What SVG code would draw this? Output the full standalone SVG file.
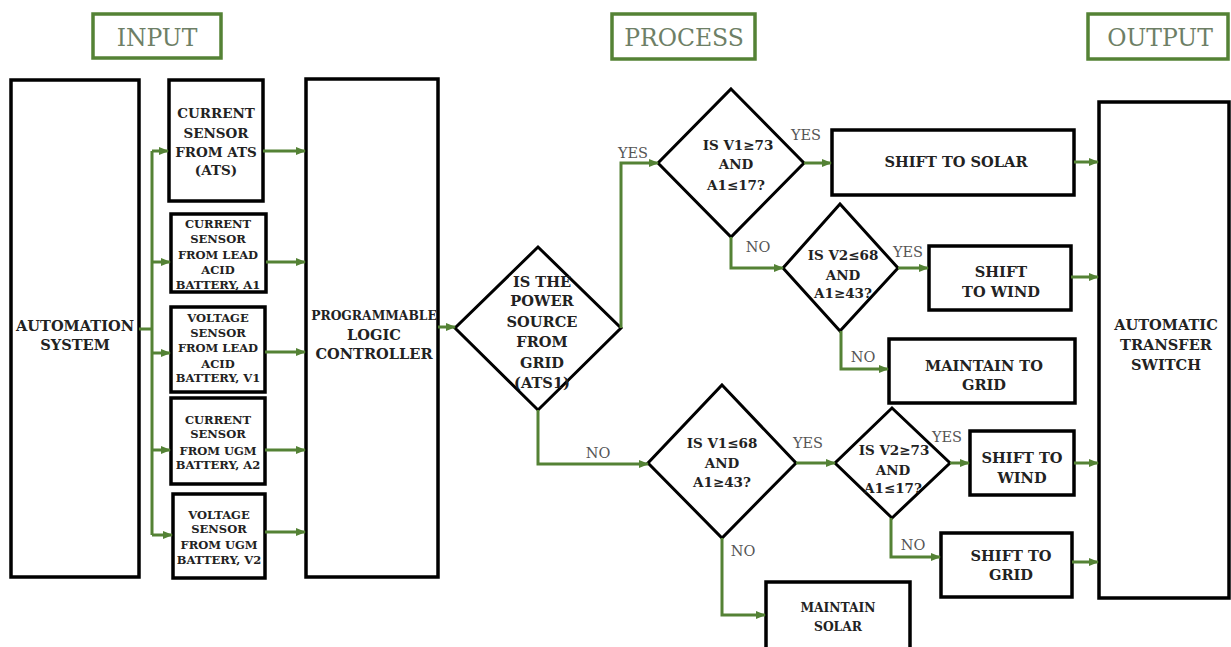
<svg xmlns="http://www.w3.org/2000/svg" width="1231" height="647" viewBox="0 0 1231 647">
<style>
.hdr{fill:#fff;stroke:#548235;stroke-width:3.5}
.hdrt{font-family:"DejaVu Serif","Liberation Serif",serif;font-size:23.5px;fill:#6e7f66;text-anchor:middle}
.box{fill:#fff;stroke:#000;stroke-width:3.5}
.dia{fill:#fff;stroke:#000;stroke-width:3}
.t{font-family:"DejaVu Serif","Liberation Serif",serif;font-weight:bold;fill:#222;text-anchor:middle}
.sa{font-size:11.5px}
.sb{font-size:12.3px}
.sc{font-size:13.5px}
.sd{font-size:14.6px}
.lbl{font-family:"DejaVu Serif","Liberation Serif",serif;font-size:14.5px;fill:#555;text-anchor:middle}
.c{fill:none;stroke:#548235;stroke-width:3}
</style>
<defs>
<marker id="ah" markerUnits="userSpaceOnUse" markerWidth="10" markerHeight="10" viewBox="0 0 10 10" refX="9" refY="5" orient="auto">
<path d="M0,1 L10,5 L0,9 Z" fill="#548235"/>
</marker>
</defs>

<g id="hdr-input"><rect class="hdr" x="93" y="14" width="128" height="44"/><text class="hdrt" x="157" y="46">INPUT</text></g>
<g id="hdr-process"><rect class="hdr" x="612" y="14" width="143" height="45"/><text class="hdrt" x="684" y="46">PROCESS</text></g>
<g id="hdr-output"><rect class="hdr" x="1088" y="14" width="140" height="45"/><text class="hdrt" x="1160" y="46">OUTPUT</text></g>

<g id="automation"><rect class="box" x="11" y="80" width="128" height="497"/>
<text class="t sd" x="75" y="331">AUTOMATION</text><text class="t sd" x="75" y="350">SYSTEM</text></g>

<g id="sensor1"><rect class="box" x="169" y="80" width="94" height="121"/>
<text class="t sc" x="216" y="118">CURRENT</text><text class="t sc" x="216" y="138">SENSOR</text><text class="t sc" x="216" y="157">FROM ATS</text><text class="t sc" x="216" y="175">(ATS)</text></g>

<g id="sensor2"><rect class="box" x="171" y="214" width="95" height="78"/>
<text class="t sa" x="218" y="228">CURRENT</text><text class="t sa" x="218" y="243">SENSOR</text><text class="t sa" x="218" y="259">FROM LEAD</text><text class="t sa" x="218" y="274">ACID</text><text class="t sa" x="218" y="289">BATTERY, A1</text></g>

<g id="sensor3"><rect class="box" x="171" y="307" width="94" height="85"/>
<text class="t sa" x="218" y="322">VOLTAGE</text><text class="t sa" x="218" y="337">SENSOR</text><text class="t sa" x="218" y="352">FROM LEAD</text><text class="t sa" x="218" y="368">ACID</text><text class="t sa" x="218" y="382">BATTERY, V1</text></g>

<g id="sensor4"><rect class="box" x="171" y="398" width="94" height="86"/>
<text class="t sa" x="218" y="424">CURRENT</text><text class="t sa" x="218" y="438">SENSOR</text><text class="t sa" x="218" y="455">FROM UGM</text><text class="t sa" x="218" y="469">BATTERY, A2</text></g>

<g id="sensor5"><rect class="box" x="173" y="494" width="92" height="84"/>
<text class="t sa" x="219" y="519">VOLTAGE</text><text class="t sa" x="219" y="533">SENSOR</text><text class="t sa" x="219" y="549">FROM UGM</text><text class="t sa" x="219" y="564">BATTERY, V2</text></g>

<g id="plc"><rect class="box" x="306" y="79" width="132" height="498"/>
<text class="t sb" x="374" y="320">PROGRAMMABLE</text><text class="t sd" x="374" y="340">LOGIC</text><text class="t sd" x="374" y="359">CONTROLLER</text></g>

<g id="d1"><polygon class="dia" points="538,247 621,328 538,410 455,328"/>
<text class="t sd" x="542" y="287">IS THE</text><text class="t sd" x="542" y="306">POWER</text><text class="t sd" x="542" y="327">SOURCE</text><text class="t sd" x="542" y="347">FROM</text><text class="t sd" x="542" y="368">GRID</text><text class="t sd" x="542" y="388">(ATS1)</text></g>

<g id="d2"><polygon class="dia" points="731,89 804,163 731,237 658,163"/>
<text class="t sc" x="738" y="150">IS V1≥73</text><text class="t sc" x="736" y="169">AND</text><text class="t sc" x="736" y="190">A1≤17?</text></g>

<g id="d4"><polygon class="dia" points="840,204 898,268 840,331 783,268"/>
<text class="t sc" x="843" y="260">IS V2≤68</text><text class="t sc" x="843" y="280">AND</text><text class="t sc" x="843" y="298">A1≥43?</text></g>

<g id="d3"><polygon class="dia" points="722,385 796,463 722,538 648,463"/>
<text class="t sc" x="722" y="448">IS V1≤68</text><text class="t sc" x="722" y="468">AND</text><text class="t sc" x="722" y="487">A1≥43?</text></g>

<g id="d5"><polygon class="dia" points="892,408 950,463 892,518 835,463"/>
<text class="t sc" x="894" y="455">IS V2≥73</text><text class="t sc" x="893" y="475">AND</text><text class="t sc" x="893" y="493">A1≤17?</text></g>

<g id="solar"><rect class="box" x="832" y="130" width="242" height="65"/>
<text class="t sd" x="956" y="167">SHIFT TO SOLAR</text></g>

<g id="wind1"><rect class="box" x="929" y="246" width="142" height="64"/>
<text class="t sd" x="1001" y="277">SHIFT</text><text class="t sd" x="1001" y="297">TO WIND</text></g>

<g id="mgrid"><rect class="box" x="889" y="339" width="186" height="64"/>
<text class="t sd" x="984" y="371">MAINTAIN TO</text><text class="t sd" x="984" y="390">GRID</text></g>

<g id="wind2"><rect class="box" x="970" y="431" width="104" height="64"/>
<text class="t sd" x="1022" y="463">SHIFT TO</text><text class="t sd" x="1022" y="483">WIND</text></g>

<g id="sgrid"><rect class="box" x="941" y="533" width="131" height="64"/>
<text class="t sd" x="1011" y="561">SHIFT TO</text><text class="t sd" x="1011" y="580">GRID</text></g>

<g id="msolar"><rect class="box" x="766" y="582" width="144" height="80"/>
<text class="t sb" x="838" y="612">MAINTAIN</text><text class="t sb" x="838" y="631">SOLAR</text></g>

<g id="ats"><rect class="box" x="1099" y="102" width="130" height="496"/>
<text class="t sd" x="1166" y="330">AUTOMATIC</text><text class="t sd" x="1166" y="350">TRANSFER</text><text class="t sd" x="1166" y="370">SWITCH</text></g>

<g id="connectors">
<path class="c" d="M139,329 H152 M152,151 V535"/>
<path class="c" marker-end="url(#ah)" d="M152,151 H168"/>
<path class="c" marker-end="url(#ah)" d="M152,262 H170"/>
<path class="c" marker-end="url(#ah)" d="M152,353 H170"/>
<path class="c" marker-end="url(#ah)" d="M152,450 H170"/>
<path class="c" marker-end="url(#ah)" d="M152,535 H172"/>
<path class="c" marker-end="url(#ah)" d="M263,151 H305"/>
<path class="c" marker-end="url(#ah)" d="M266,262 H305"/>
<path class="c" marker-end="url(#ah)" d="M265,352 H305"/>
<path class="c" marker-end="url(#ah)" d="M265,450 H305"/>
<path class="c" marker-end="url(#ah)" d="M265,532 H305"/>
<path class="c" marker-end="url(#ah)" d="M438,327 H455"/>
<path class="c" marker-end="url(#ah)" d="M621,328 V163 H658"/>
<path class="c" marker-end="url(#ah)" d="M538,410 V464 H648"/>
<path class="c" marker-end="url(#ah)" d="M804,163 H831"/>
<path class="c" marker-end="url(#ah)" d="M731,237 V268 H783"/>
<path class="c" marker-end="url(#ah)" d="M898,268 H928"/>
<path class="c" marker-end="url(#ah)" d="M841,331 V369 H888"/>
<path class="c" marker-end="url(#ah)" d="M796,463 H835"/>
<path class="c" marker-end="url(#ah)" d="M950,463 H969"/>
<path class="c" marker-end="url(#ah)" d="M891,518 V557 H940"/>
<path class="c" marker-end="url(#ah)" d="M722,538 V615 H765"/>
<path class="c" marker-end="url(#ah)" d="M1074,162 H1098"/>
<path class="c" marker-end="url(#ah)" d="M1071,277 H1098"/>
<path class="c" marker-end="url(#ah)" d="M1074,463 H1098"/>
<path class="c" marker-end="url(#ah)" d="M1072,562 H1098"/>
<text class="lbl" x="633" y="158">YES</text>
<text class="lbl" x="806" y="140">YES</text>
<text class="lbl" x="758" y="252">NO</text>
<text class="lbl" x="908" y="257">YES</text>
<text class="lbl" x="863" y="362">NO</text>
<text class="lbl" x="598" y="458">NO</text>
<text class="lbl" x="808" y="448">YES</text>
<text class="lbl" x="743" y="556">NO</text>
<text class="lbl" x="947" y="442">YES</text>
<text class="lbl" x="913" y="550">NO</text>
</g>
</svg>
